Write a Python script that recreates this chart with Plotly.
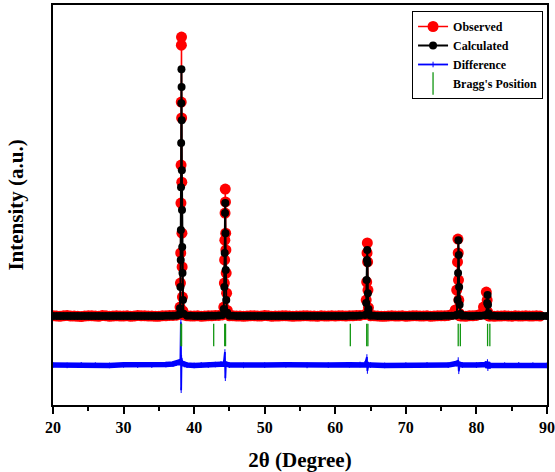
import plotly.graph_objects as go

# ---------------- data ----------------
obs_2theta = [20, 20.5, 21, 21.5, 22, 22.5, 23, 23.5, 24, 24.5, 25, 25.5, 26, 26.5, 27, 27.5, 28, 28.5,
              29, 29.5, 30, 30.5, 31, 31.5, 32, 32.5, 33, 33.5, 34, 34.5, 35, 35.5, 36, 36.5, 37, 37.5,
              37.90, 38.00, 38.06, 38.10, 38.13, 38.15, 38.17, 38.19, 38.21, 38.23, 38.25, 38.27, 38.30, 38.34, 38.40, 38.50,
              39, 39.5, 40, 40.5, 41, 41.5, 42, 42.5, 43, 43.5,
              44.00, 44.20, 44.28, 44.32, 44.35, 44.38, 44.41, 44.44, 44.47, 44.50, 44.54, 44.60, 44.70,
              45, 45.5, 46, 46.5, 47, 47.5, 48, 48.5, 49, 49.5, 50, 50.5, 51, 51.5, 52, 52.5, 53, 53.5,
              54, 54.5, 55, 55.5, 56, 56.5, 57, 57.5, 58, 58.5, 59, 59.5, 60, 60.5, 61, 61.5, 62, 62.5,
              63, 63.5,
              64.20, 64.38, 64.45, 64.50, 64.54, 64.58, 64.63, 64.70, 64.85,
              65, 65.5, 66, 66.5, 67, 67.5, 68, 68.5, 69, 69.5, 70, 70.5, 71, 71.5, 72, 72.5, 73, 73.5,
              74, 74.5, 75, 75.5, 76, 76.5, 77,
              77.20, 77.32, 77.38, 77.42, 77.46, 77.50, 77.55, 77.62, 77.75,
              78, 78.5, 79, 79.5, 80, 80.5, 81,
              81.40, 81.52, 81.58, 81.64, 81.72, 81.85,
              82, 82.5, 83, 83.5, 84, 84.5, 85, 85.5, 86, 86.5, 87, 87.5, 88, 88.5, 89, 89.5, 90]
obs_intensity = [1, 0, -1, 1, 2, 0, 0, -1, -2, 0, 1, 1, 0, -1, 2, 1, -1, 0,
                 1, 0, 0, 1, -1, 0, 2, 1, 1, 0, 0, -1, -1, 1, 1, 2, 2, 3,
                 6, 32, 118, 226, 405, 541, 767, 971, 1000, 710, 480, 297, 176, 68, 18, 4,
                 1, 0, 0, 1, -1, 0, 1, 1, 2, 2,
                 4, 32, 118, 201, 272, 369, 455, 409, 297, 237, 154, 82, 20,
                 1, 1, 0, 0, -1, 0, 1, 1, 0, 0, 2, 1, -1, 0, 0, 1, 1, 0,
                 -1, 0, 0, 1, 1, 0, 0, -1, 1, 0, 0, 1, 0, 1, 1, 0, 1, 1,
                 2, 2,
                 5, 57, 122, 226, 262, 194, 93, 30, 6,
                 1, 1, 0, -1, -1, 0, 1, 0, 0, 1, -1, 0, 1, 1, 0, 0, 1, -1,
                 0, 1, 1, 1, 2,
                 5, 22, 93, 194, 276, 226, 129, 57, 10,
                 1, 1, 0, -1, 1, 1, 2,
                 5, 32, 86, 57, 15, 3,
                 1, 0, 1, -1, 0, 0, 1, 0, -1, 1, 0, 0, 1, 0, 0, 1, 0]

calc_2theta = [20, 20.5, 21, 21.5, 22, 22.5, 23, 23.5, 24, 24.5, 25, 25.5, 26, 26.5, 27, 27.5, 28, 28.5,
               29, 29.5, 30, 30.5, 31, 31.5, 32, 32.5, 33, 33.5, 34, 34.5, 35, 35.5, 36, 36.5, 37, 37.5,
               37.90, 38.00, 38.06, 38.10, 38.12, 38.14, 38.16, 38.18, 38.20, 38.22, 38.24, 38.26, 38.28, 38.31, 38.35, 38.42, 38.50,
               39, 39.5, 40, 40.5, 41, 41.5, 42, 42.5, 43, 43.5,
               44.00, 44.20, 44.28, 44.33, 44.38, 44.41, 44.44, 44.48, 44.55, 44.70,
               45, 45.5, 46, 46.5, 47, 47.5, 48, 48.5, 49, 49.5, 50, 50.5, 51, 51.5, 52, 52.5, 53, 53.5,
               54, 54.5, 55, 55.5, 56, 56.5, 57, 57.5, 58, 58.5, 59, 59.5, 60, 60.5, 61, 61.5, 62, 62.5,
               63, 63.5,
               64.20, 64.38, 64.44, 64.49, 64.53, 64.57, 64.62, 64.70, 64.85,
               65, 65.5, 66, 66.5, 67, 67.5, 68, 68.5, 69, 69.5, 70, 70.5, 71, 71.5, 72, 72.5, 73, 73.5,
               74, 74.5, 75, 75.5, 76, 76.5, 77,
               77.20, 77.34, 77.40, 77.45, 77.50, 77.55, 77.62, 77.75,
               78, 78.5, 79, 79.5, 80, 80.5, 81,
               81.40, 81.52, 81.58, 81.64, 81.72, 81.85,
               82, 82.5, 83, 83.5, 84, 84.5, 85, 85.5, 86, 86.5, 87, 87.5, 88, 88.5, 89, 89.5, 90]
calc_intensity = [0, 0, 0, 0, 0, 0, 0, 0, 0, 0, 0, 0, 0, 0, 0, 0, 0, 0,
                  0, 0, 0, 0, 0, 0, 0, 0, 0, 0, 0, 0, 0, 0, 1, 1, 1, 2,
                  5, 28, 104, 201, 308, 462, 620, 763, 885, 821, 702, 523, 380, 247, 154, 57, 8,
                  1, 1, 0, 0, 0, 0, 1, 1, 1, 2,
                  4, 25, 104, 226, 369, 405, 297, 165, 57, 12,
                  1, 1, 0, 0, 0, 0, 0, 0, 0, 0, 0, 0, 0, 0, 0, 0, 0, 0,
                  0, 0, 0, 0, 0, 0, 0, 0, 0, 0, 0, 0, 0, 0, 0, 0, 1, 1,
                  1, 2,
                  4, 47, 129, 201, 237, 190, 82, 25, 5,
                  1, 1, 0, 0, 0, 0, 0, 0, 0, 0, 0, 0, 0, 0, 0, 0, 0, 0,
                  0, 0, 0, 1, 1, 1, 2,
                  4, 57, 154, 272, 219, 104, 40, 8,
                  1, 1, 0, 0, 1, 1, 2,
                  4, 47, 75, 40, 10, 3,
                  1, 1, 0, 0, 0, 0, 0, 0, 0, 0, 0, 0, 0, 0, 0, 0, 0]

diff_2theta = [20, 22, 24, 26, 28, 30, 32, 34, 36, 37, 37.5, 37.9, 38.05, 38.12, 38.16, 38.22, 38.35, 38.6,
               39, 40, 41, 42, 43, 43.8, 44.2, 44.36, 44.42, 44.5, 45,
               47, 50, 53, 56, 59, 62, 63.5, 64.2, 64.48, 64.55, 64.7, 65,
               67, 70, 73, 76, 77.2, 77.42, 77.5, 77.65, 78,
               80, 81.4, 81.56, 81.62, 81.75, 82, 84, 86, 88, 90]
diff_intensity = [-176, -177, -175, -176, -177, -175, -176, -176, -174, -172, -168, -165, -160, -22, -266, -150, -170, -174,
                  -176, -177, -175, -176, -174, -172, -168, -129, -223, -172, -176,
                  -177, -176, -175, -177, -176, -175, -174, -172, -147, -197, -174, -176,
                  -177, -176, -175, -176, -170, -158, -198, -174, -176,
                  -176, -174, -165, -187, -176, -177, -176, -175, -176, -177]

bragg_2theta = [38.12, 38.22, 42.77, 44.33, 44.45, 62.13, 64.45, 64.62, 77.42, 77.72, 81.58, 81.90]
bragg_level = [-68] * len(bragg_2theta)

DIFF_BASE = -176  # level of the difference curve's flat part

x_tick_values = [20, 30, 40, 50, 60, 70, 80, 90]
x_minor_values = [25, 35, 45, 55, 65, 75, 85]

# ---------------- figure ----------------
font_family = "Liberation Serif, Times New Roman, Times, serif"
BOLD = "bold"

# the noisy flat part of the difference curve is drawn as a thicker band,
# the sharp spikes as a thin line on top of it
band_x = [x for x, d in zip(diff_2theta, diff_intensity) if abs(d - DIFF_BASE) < 15]
band_y = [d for d in diff_intensity if abs(d - DIFF_BASE) < 15]

fig = go.Figure()

fig.add_trace(go.Scatter(
    x=obs_2theta, y=obs_intensity, name="Observed", mode="lines+markers",
    line=dict(color="#ff0000", width=1.5),
    marker=dict(color="#ff0000", size=11),
))
fig.add_trace(go.Scatter(
    x=calc_2theta, y=calc_intensity, name="Calculated", mode="lines+markers",
    line=dict(color="#000000", width=2),
    marker=dict(color="#000000", size=8),
))
fig.add_trace(go.Scatter(
    x=band_x, y=band_y, name="Difference", mode="lines",
    line=dict(color="#0000ff", width=5.5), showlegend=False, hoverinfo="skip",
))
fig.add_trace(go.Scatter(
    x=diff_2theta, y=diff_intensity, name="Difference", mode="lines+markers",
    line=dict(color="#0000ff", width=1.8),
    marker=dict(color="#0000ff", size=4, symbol="line-ns", line=dict(color="#0000ff", width=1)),
))
fig.add_trace(go.Scatter(
    x=bragg_2theta, y=bragg_level, name="Bragg's Position", mode="markers",
    marker=dict(symbol="line-ns", size=16, color="#129612",
                line=dict(color="#129612", width=1.3)),
))

fig.update_layout(
    width=555, height=472,
    margin=dict(l=53, r=8, t=5, b=67, autoexpand=False),
    paper_bgcolor="white", plot_bgcolor="white",
    font=dict(family=font_family, color="black", weight=BOLD),
    legend=dict(
        x=0.992, y=0.985, xanchor="right", yanchor="top",
        bordercolor="black", borderwidth=1, bgcolor="white",
        font=dict(family=font_family, size=12, color="black", weight=BOLD),
        tracegroupgap=0,
    ),
)
fig.update_xaxes(
    range=[20, 90], tickvals=x_tick_values, automargin=False,
    showline=True, linecolor="black", linewidth=1.5, mirror=True,
    ticks="outside", ticklen=7, tickwidth=1.5, tickcolor="black",
    minor=dict(tickvals=x_minor_values, ticks="outside", ticklen=4, tickwidth=1.5, tickcolor="black"),
    showgrid=False, zeroline=False,
    tickfont=dict(family=font_family, size=16, color="black", weight=BOLD),
    title=dict(text="2θ (Degree)", standoff=18,
               font=dict(family=font_family, size=21, color="black", weight=BOLD)),
)
fig.update_yaxes(
    range=[-319, 1115], automargin=False,
    showline=True, linecolor="black", linewidth=1.5, mirror=True,
    showticklabels=False, ticks="", showgrid=False, zeroline=False,
    title=dict(text="Intensity (a.u.)", standoff=22,
               font=dict(family=font_family, size=21, color="black", weight=BOLD)),
)

fig.write_html("out.html", config={"displayModeBar": False},
               post_script="document.body.style.margin='0px';")
